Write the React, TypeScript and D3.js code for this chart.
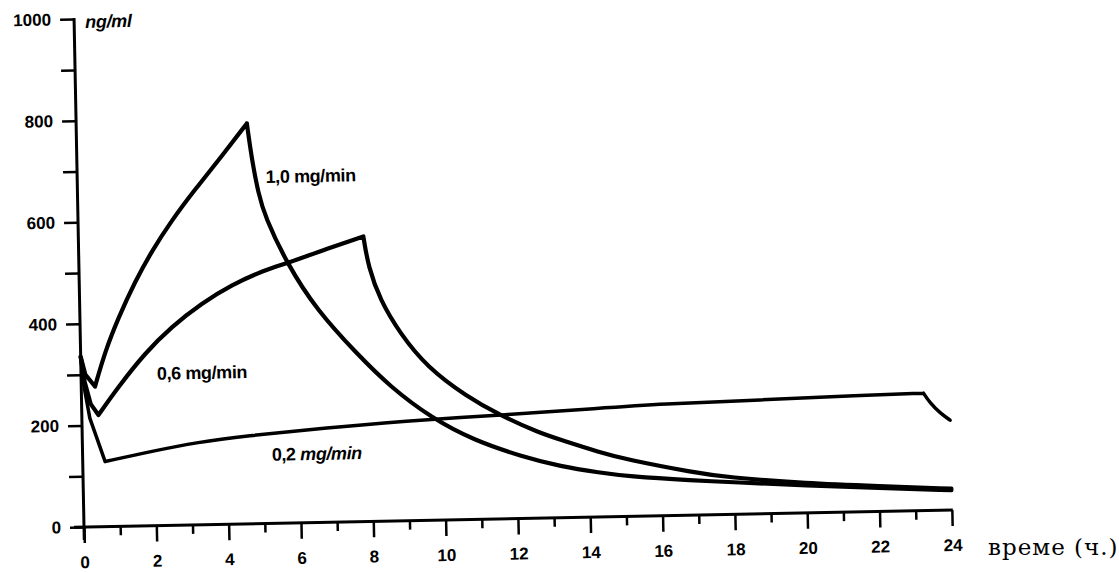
import { useEffect, useRef } from "react";
import * as d3 from "d3";

type Pt = [number, number];

// axis ticks
const hourLabels = [0, 2, 4, 6, 8, 10, 12, 14, 16, 18, 20, 22, 24];
const hourMinor = [1, 3, 5, 7, 9, 11, 13, 15, 17, 19, 21, 23];
const concLabels = [0, 200, 400, 600, 800, 1000];
const concMinor = [100, 300, 500, 700, 900];

const seriesNames = ["1,0 mg/min", "0,6 mg/min", "0,2 mg/min"];

// [hours, ng/ml]
// 1,0 mg/min
const dose10Drop: Pt[] = [[0, 335], [0.12, 300], [0.38, 276]];
const dose10Rise: Pt[] = [[0.38, 276], [0.68, 345], [1.06, 410], [1.55, 482], [2.02, 540], [2.59, 600], [3.25, 660], [3.91, 716], [4.72, 788]];
const dose10Fall: Pt[] = [[4.72, 788], [4.84, 716], [5.0, 650], [5.17, 604], [5.75, 511], [6.55, 418], [7.63, 331], [8.54, 264], [9.67, 201], [10.81, 156], [12.18, 121], [13.2, 101], [14.3, 87], [15.04, 79], [16.88, 68], [18, 63], [20, 54], [22, 46], [24, 39]];

// 0,6 mg/min
const dose06Drop: Pt[] = [[0, 335], [0.1, 285], [0.25, 242], [0.46, 220]];
const dose06Rise: Pt[] = [[0.46, 220], [1.03, 275], [1.78, 340], [2.53, 391], [3.38, 436], [4.21, 471], [5.14, 499], [5.75, 511], [6.77, 536], [7.88, 561]];
const dose06Fall: Pt[] = [[7.88, 561], [8.0, 501], [8.31, 435], [8.84, 369], [9.56, 302], [10.65, 242], [11.56, 204], [12.66, 167], [13.2, 154], [14.3, 127], [15.04, 112], [16.88, 84], [17.8, 73], [20, 58], [22, 50], [24, 42]];

// 0,2 mg/min
const dose02Drop: Pt[] = [[0, 335], [0.08, 275], [0.22, 214], [0.62, 128]];
const dose02Rise: Pt[] = [[0.62, 128], [1.87, 146], [3.25, 163], [4.36, 172], [7.13, 188], [9.67, 199], [11.56, 204], [14.33, 214], [15.99, 220], [18.76, 224], [21.53, 229], [23.28, 231]];
const dose02Fall: Pt[] = [[23.28, 231], [23.46, 211], [23.73, 191], [24, 177]];

export default function App() {
  const ref = useRef<SVGSVGElement>(null);

  useEffect(() => {
    const svg = d3.select(ref.current);
    svg.selectAll("*").remove();

    const x = d3.scaleLinear().domain([0, 24]).range([84, 952]);
    const y = d3.scaleLinear().domain([0, 1000]).range([527, 19]);
    const font = "'Liberation Sans', Arial, sans-serif";

    // the scanned page is a little tilted, so turn the plot about the origin
    const g = svg.append("g")
      .attr("transform", `rotate(-1.12, ${x(0)}, ${y(0)})`);

    // y axis, labelled and minor ticks
    g.append("g")
      .attr("transform", `translate(${x(0)},0)`)
      .call(d3.axisLeft(y).tickValues(concLabels).tickSize(14).tickPadding(9).tickFormat(d3.format("d")));
    g.append("g")
      .attr("transform", `translate(${x(0)},0)`)
      .call(d3.axisLeft(y).tickValues(concMinor).tickSize(14).tickFormat(() => ""));

    // x axis
    g.append("g")
      .attr("transform", `translate(0,${y(0)})`)
      .call(d3.axisBottom(x).tickValues(hourLabels).tickSize(16).tickPadding(13).tickFormat(d3.format("d")));
    g.append("g")
      .attr("transform", `translate(0,${y(0)})`)
      .call(d3.axisBottom(x).tickValues(hourMinor).tickSize(9).tickFormat(() => ""));

    g.selectAll(".domain").remove();
    g.selectAll(".tick line").attr("stroke", "#000").attr("stroke-width", 2.5);
    g.selectAll(".tick text")
      .attr("fill", "#000")
      .attr("font-family", font)
      .attr("font-size", 17)
      .attr("font-weight", "bold");

    // axis lines, crossing a bit past the origin
    g.append("line")
      .attr("x1", x(0)).attr("x2", x(0))
      .attr("y1", y(1000) - 1).attr("y2", y(0) + 13)
      .attr("stroke", "#000").attr("stroke-width", 3);
    g.append("line")
      .attr("x1", x(0) - 10).attr("x2", x(24) + 1)
      .attr("y1", y(0)).attr("y2", y(0))
      .attr("stroke", "#000").attr("stroke-width", 3);

    g.append("text")
      .attr("x", x(0) + 11).attr("y", y(1000) + 9)
      .attr("font-family", font).attr("font-size", 18)
      .attr("font-weight", "bold").attr("font-style", "italic")
      .attr("letter-spacing", -0.3)
      .text("ng/ml");

    // curves: a straight drop after the loading dose, then smooth rise and fall
    const smooth = d3.line<Pt>().x(d => x(d[0])).y(d => y(d[1])).curve(d3.curveBasis);
    const straight = d3.line<Pt>().x(d => x(d[0])).y(d => y(d[1]));

    const series = [
      { parts: [dose10Drop, dose10Rise, dose10Fall], width: 4.2 },
      { parts: [dose06Drop, dose06Rise, dose06Fall], width: 4.2 },
      { parts: [dose02Drop, dose02Rise, dose02Fall], width: 3.5 },
    ];
    series.forEach(s => {
      const d = straight(s.parts[0]) + smooth(s.parts[1]) + smooth(s.parts[2]);
      g.append("path")
        .attr("d", d)
        .attr("fill", "none")
        .attr("stroke", "#000")
        .attr("stroke-width", s.width)
        .attr("stroke-linejoin", "round")
        .attr("stroke-linecap", "round");
    });

    // curve labels
    const labelAt: Pt[] = [[5.21, 670], [2.1, 287], [5.23, 123]];
    seriesNames.forEach((name, i) => {
      const [num, unit] = name.split(" ");
      const t = g.append("text")
        .attr("x", x(labelAt[i][0])).attr("y", y(labelAt[i][1]))
        .attr("font-family", font).attr("font-size", 18)
        .attr("font-weight", "bold").attr("letter-spacing", -0.4);
      t.append("tspan").text(num + " ");
      t.append("tspan").attr("font-style", i === 2 ? "italic" : "normal").text(unit);
    });

    svg.append("text")
      .attr("x", 988).attr("y", 555)
      .attr("font-family", "'DejaVu Serif', serif")
      .attr("font-size", 23)
      .attr("letter-spacing", 1)
      .text("време (ч.)");
  }, []);

  return (
    <svg
      ref={ref}
      width={1119}
      height={573}
      style={{ position: "absolute", left: 0, top: 0, background: "#fff" }}
    />
  );
}
